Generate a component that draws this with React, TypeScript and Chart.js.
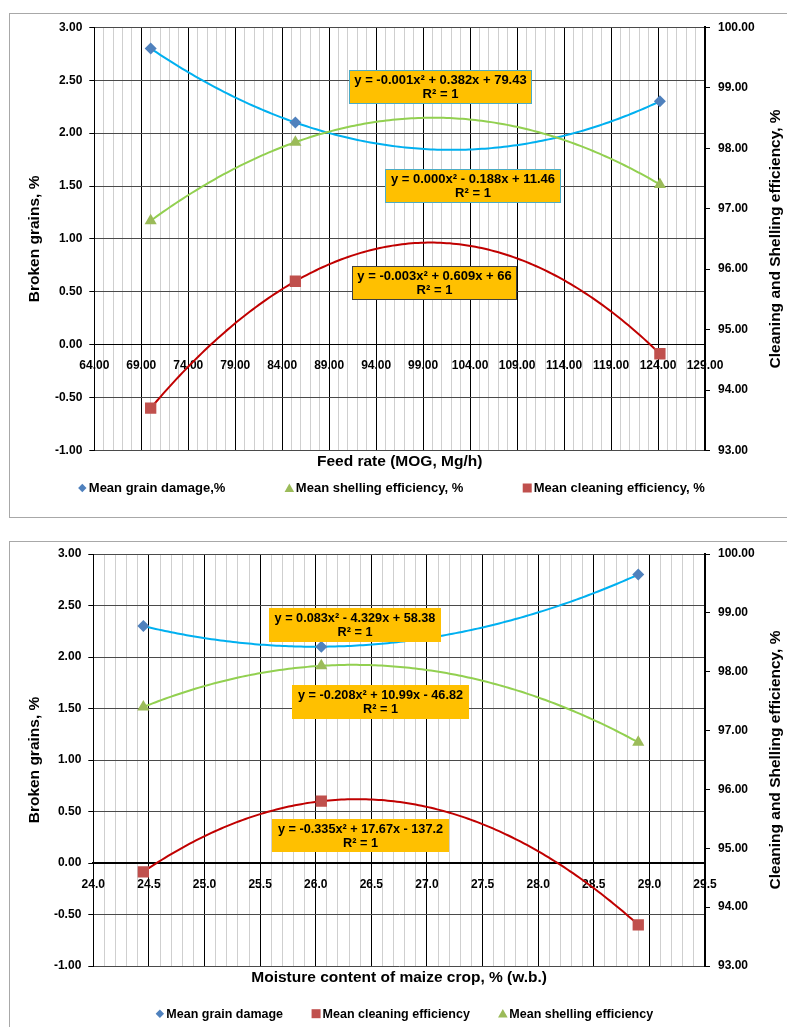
import React, { useEffect, useRef } from 'react';
import { Chart, registerables } from 'chart.js';

Chart.register(...registerables);

const FONT = "'Liberation Sans', Arial, Helvetica, sans-serif";

// ---------- Chart 1: feed rate ----------
const feedRate = [70.0, 85.4, 124.2];
const grainDamageFeed = [2.8, 2.1, 2.3];
const shellingFeed = [96.8, 98.1, 97.4];
const cleaningFeed = [93.7, 95.8, 94.6];
const feedLabels = ['Mean grain damage,%', 'Mean shelling efficiency, %', 'Mean cleaning efficiency, %'];
const feedEquations = [
  'y = -0.001x² + 0.382x + 79.43',
  'y = 0.000x² - 0.188x + 11.46',
  'y = -0.003x² + 0.609x + 66',
];

// ---------- Chart 2: moisture content ----------
const moisture = [24.45, 26.05, 28.9];
const grainDamageMoist = [2.3, 2.1, 2.8];
const cleaningMoist = [94.6, 95.8, 93.7];
const shellingMoist = [97.4, 98.1, 96.8];
const moistLabels = ['Mean grain damage', 'Mean cleaning efficiency', 'Mean shelling efficiency'];
const moistEquations = [
  'y = 0.083x² - 4.329x + 58.38',
  'y = -0.208x² + 10.99x - 46.82',
  'y = -0.335x² + 17.67x - 137.2',
];
const rSquared = 'R² = 1';

// axis ranges
const brokenRange = [-1, 3, 0.5];
const effRange = [93, 100, 1];
const feedRange = [64, 129, 1];
const moistRange = [24, 29.5, 0.1];

const BLUE = '#4F81BD';
const RED = '#C0504D';
const GREEN = '#9BBB59';

type Pt = { x: number; y: number };
const zip = (xs: number[], ys: number[]): Pt[] => xs.map((x, i) => ({ x, y: ys[i] }));

function quadFit(xs: number[], ys: number[]) {
  const n = xs.length;
  const mx = xs.reduce((a, b) => a + b, 0) / n;
  let s1 = 0, s2 = 0, s3 = 0, s4 = 0, t0 = 0, t1 = 0, t2 = 0;
  for (let i = 0; i < n; i++) {
    const u = xs[i] - mx;
    const y = ys[i];
    s1 += u; s2 += u * u; s3 += u * u * u; s4 += u * u * u * u;
    t0 += y; t1 += u * y; t2 += u * u * y;
  }
  const M = [
    [n, s1, s2, t0],
    [s1, s2, s3, t1],
    [s2, s3, s4, t2],
  ];
  for (let c = 0; c < 3; c++) {
    let p = c;
    for (let r = c + 1; r < 3; r++) if (Math.abs(M[r][c]) > Math.abs(M[p][c])) p = r;
    [M[c], M[p]] = [M[p], M[c]];
    for (let r = 0; r < 3; r++) {
      if (r === c) continue;
      const f = M[r][c] / M[c][c];
      for (let k = c; k < 4; k++) M[r][k] -= f * M[c][k];
    }
  }
  const a = M[0][3] / M[0][0];
  const b = M[1][3] / M[1][1];
  const cc = M[2][3] / M[2][2];
  return (x: number) => a + b * (x - mx) + cc * (x - mx) * (x - mx);
}

const trendPlugin = {
  id: 'quadTrend',
  beforeDatasetsDraw(chart: any) {
    const { ctx, chartArea } = chart;
    ctx.save();
    ctx.beginPath();
    ctx.rect(chartArea.left, chartArea.top, chartArea.right - chartArea.left, chartArea.bottom - chartArea.top);
    ctx.clip();
    chart.data.datasets.forEach((ds: any) => {
      if (!ds.trendColor) return;
      const pts = ds.data as Pt[];
      const xs = pts.map((p) => p.x);
      const f = quadFit(xs, pts.map((p) => p.y));
      const xScale = chart.scales[ds.xAxisID || 'x'];
      const yScale = chart.scales[ds.yAxisID || 'y'];
      const x0 = Math.min(...xs);
      const x1 = Math.max(...xs);
      const steps = 160;
      ctx.beginPath();
      for (let k = 0; k <= steps; k++) {
        const xv = x0 + ((x1 - x0) * k) / steps;
        const px = xScale.getPixelForValue(xv);
        const py = yScale.getPixelForValue(f(xv));
        if (k === 0) ctx.moveTo(px, py);
        else ctx.lineTo(px, py);
      }
      ctx.strokeStyle = ds.trendColor;
      ctx.lineWidth = 2;
      ctx.lineJoin = 'round';
      ctx.lineCap = 'round';
      ctx.stroke();
    });
    ctx.restore();
  },
};

function drawMarker(ctx: CanvasRenderingContext2D, style: string, x: number, y: number, color: string) {
  ctx.fillStyle = color;
  ctx.beginPath();
  if (style === 'rectRot') {
    const h = 4.2;
    ctx.moveTo(x, y - h);
    ctx.lineTo(x + h, y);
    ctx.lineTo(x, y + h);
    ctx.lineTo(x - h, y);
  } else if (style === 'triangle') {
    ctx.moveTo(x, y - 4.6);
    ctx.lineTo(x + 4.8, y + 3.9);
    ctx.lineTo(x - 4.8, y + 3.9);
  } else {
    ctx.rect(x - 4.5, y - 4.5, 9, 9);
  }
  ctx.closePath();
  ctx.fill();
}

type BoxSpec = { x: number; y: number; w: number; h: number; border?: string; text: string };
type DecorSpec = {
  boxes: BoxSpec[];
  boxFont: number;
  xTitle: string;
  xTitleOffset: number;
  yTitle: string;
  yTitleX: number;
  y2Title: string;
  y2TitleX: number;
  titleFont: number;
  legendFont: number;
  legendGap: number;
  legendCenterX: number;
  legendOffset: number;
};

function makeDecorPlugin(spec: DecorSpec) {
  return {
    id: 'decor',
    afterDraw(chart: any) {
      const { ctx, chartArea } = chart;
      const xS = chart.scales.x;
      const yS = chart.scales.y;
      ctx.save();
      // equation boxes
      spec.boxes.forEach((b) => {
        const cx = xS.getPixelForValue(b.x);
        const cy = yS.getPixelForValue(b.y);
        const l = Math.round(cx - b.w / 2);
        const t = Math.round(cy - b.h / 2);
        ctx.fillStyle = '#FFC000';
        ctx.fillRect(l, t, b.w, b.h);
        if (b.border) {
          ctx.strokeStyle = b.border;
          ctx.lineWidth = 1;
          ctx.strokeRect(l + 0.5, t + 0.5, b.w - 1, b.h - 1);
        }
        ctx.fillStyle = '#000';
        ctx.font = `bold ${spec.boxFont}px ${FONT}`;
        ctx.textAlign = 'center';
        ctx.textBaseline = 'middle';
        ctx.fillText(b.text, l + b.w / 2, t + b.h / 2 - 6.5);
        ctx.fillText(rSquared, l + b.w / 2, t + b.h / 2 + 7.5);
      });
      // titles
      const midY = (chartArea.top + chartArea.bottom) / 2;
      const midX = (chartArea.left + chartArea.right) / 2;
      ctx.fillStyle = '#000';
      ctx.font = `bold ${spec.titleFont}px ${FONT}`;
      ctx.textAlign = 'center';
      ctx.textBaseline = 'middle';
      ctx.fillText(spec.xTitle, midX, chartArea.bottom + spec.xTitleOffset);
      [
        [spec.yTitle, spec.yTitleX],
        [spec.y2Title, spec.y2TitleX],
      ].forEach(([txt, x]) => {
        ctx.save();
        ctx.translate(x as number, midY);
        ctx.rotate(-Math.PI / 2);
        ctx.fillText(txt as string, 0, 0);
        ctx.restore();
      });
      // legend
      ctx.font = `bold ${spec.legendFont}px ${FONT}`;
      ctx.textAlign = 'left';
      const items = chart.data.datasets.map((ds: any) => ({
        label: ds.label as string,
        style: ds.pointStyle as string,
        color: ds.backgroundColor as string,
      }));
      const widths = items.map((it: any) => ctx.measureText(it.label).width);
      const markerGap = 6.5;
      const total =
        widths.reduce((a: number, w: number) => a + w, 0) + items.length * markerGap + (items.length - 1) * spec.legendGap;
      let mx = spec.legendCenterX - total / 2;
      const ly = chartArea.bottom + spec.legendOffset;
      items.forEach((it: any, i: number) => {
        drawMarker(ctx, it.style, mx, ly, it.color);
        ctx.fillStyle = '#000';
        ctx.fillText(it.label, mx + markerGap, ly + 0.5);
        mx += markerGap + widths[i] + spec.legendGap;
      });
      ctx.restore();
    },
  };
}

type BuildArgs = {
  xRange: number[];
  majorEvery: number;
  decimals: number;
  xBorderWidth: number;
  showXTicks: boolean;
  datasets: any[];
  padTop: number;
  padBottom: number;
  leftWidth: number;
  rightWidth: number;
  decor: DecorSpec;
};

function buildConfig(a: BuildArgs): any {
  const [xMin, xMax, xStep] = a.xRange;
  const isMajor = (v: number) => Math.round((v - xMin) / xStep) % a.majorEvery === 0;
  const tickFont = { family: FONT, size: 12, weight: 'bold' as const };
  return {
    type: 'scatter',
    data: { datasets: a.datasets },
    plugins: [trendPlugin, makeDecorPlugin(a.decor)],
    options: {
      responsive: false,
      animation: false,
      events: [],
      layout: { padding: { top: a.padTop, bottom: a.padBottom, left: 0, right: 0 } },
      plugins: { legend: { display: false }, tooltip: { enabled: false } },
      scales: {
        x: {
          type: 'linear',
          position: { y: 0 },
          min: xMin,
          max: xMax,
          ticks: {
            stepSize: xStep,
            autoSkip: false,
            maxRotation: 0,
            minRotation: 0,
            padding: 9,
            color: '#000',
            font: tickFont,
            callback: (v: any) => (isMajor(Number(v)) ? Number(v).toFixed(a.decimals) : ''),
          },
          grid: {
            color: (c: any) => (c.tick && isMajor(c.tick.value) ? '#000' : '#CFCFCF'),
            lineWidth: 1,
            tickLength: 5,
            tickColor: (c: any) =>
              a.showXTicks && c.tick && isMajor(c.tick.value) ? '#000' : 'rgba(0,0,0,0)',
          },
          border: { display: true, color: '#000', width: a.xBorderWidth },
        },
        y: {
          type: 'linear',
          position: 'left',
          min: brokenRange[0],
          max: brokenRange[1],
          ticks: {
            stepSize: brokenRange[2],
            padding: 7,
            color: '#000',
            font: tickFont,
            callback: (v: any) => Number(v).toFixed(2),
          },
          grid: { color: '#4A4A4A', lineWidth: 1, tickLength: 5, tickColor: '#000' },
          border: { display: true, color: '#000', width: 1 },
          afterFit: (s: any) => {
            s.width = a.leftWidth;
          },
        },
        y2: {
          type: 'linear',
          position: 'right',
          min: effRange[0],
          max: effRange[1],
          ticks: {
            stepSize: effRange[2],
            padding: 8,
            color: '#000',
            font: tickFont,
            callback: (v: any) => Number(v).toFixed(2),
          },
          grid: { drawOnChartArea: false, tickLength: 5, tickColor: '#000', lineWidth: 1 },
          border: { display: true, color: '#000', width: 2 },
          afterFit: (s: any) => {
            s.width = a.rightWidth;
          },
        },
      },
    },
  };
}

function series(label: string, pts: Pt[], axis: string, style: string, radius: number, color: string, trend: string) {
  return {
    label,
    data: pts,
    yAxisID: axis,
    pointStyle: style,
    pointRadius: radius,
    pointBorderWidth: 0,
    backgroundColor: color,
    borderColor: color,
    showLine: false,
    trendColor: trend,
  };
}

const TITLE_Y = 'Broken grains, %';
const TITLE_Y2 = 'Cleaning and Shelling efficiency, %';

function feedConfig() {
  return buildConfig({
    xRange: feedRange,
    majorEvery: 5,
    decimals: 2,
    xBorderWidth: 1,
    showXTicks: false,
    padTop: 27.3,
    padBottom: 79.5,
    leftWidth: 94.3,
    rightWidth: 82,
    datasets: [
      series(feedLabels[0], zip(feedRate, grainDamageFeed), 'y', 'rectRot', 6, BLUE, '#00B0F0'),
      series(feedLabels[1], zip(feedRate, shellingFeed), 'y2', 'triangle', 7, GREEN, '#92D050'),
      series(feedLabels[2], zip(feedRate, cleaningFeed), 'y2', 'rect', 8, RED, '#C00000'),
    ],
    decor: {
      boxes: [
        { x: 100.88, y: 2.436, w: 183, h: 34, border: '#4BACC6', text: feedEquations[0] },
        { x: 104.29, y: 1.5, w: 176, h: 34, border: '#4BACC6', text: feedEquations[1] },
        { x: 100.21, y: 0.579, w: 165, h: 34, border: '#404040', text: feedEquations[2] },
      ],
      boxFont: 13,
      xTitle: 'Feed rate (MOG, Mg/h)',
      xTitleOffset: 11.5,
      yTitle: TITLE_Y,
      yTitleX: 35,
      y2Title: TITLE_Y2,
      y2TitleX: 776,
      titleFont: 15.5,
      legendFont: 13,
      legendGap: 64,
      legendCenterX: 393.5,
      legendOffset: 37.5,
    },
  });
}

function moistConfig() {
  return buildConfig({
    xRange: moistRange,
    majorEvery: 5,
    decimals: 1,
    xBorderWidth: 2,
    showXTicks: true,
    padTop: 24,
    padBottom: 61,
    leftWidth: 93.3,
    rightWidth: 82,
    datasets: [
      series(moistLabels[0], zip(moisture, grainDamageMoist), 'y', 'rectRot', 6, BLUE, '#00B0F0'),
      series(moistLabels[1], zip(moisture, cleaningMoist), 'y2', 'rect', 8, RED, '#C00000'),
      series(moistLabels[2], zip(moisture, shellingMoist), 'y2', 'triangle', 7, GREEN, '#92D050'),
    ],
    decor: {
      boxes: [
        { x: 26.35, y: 2.314, w: 172, h: 34, text: moistEquations[0] },
        { x: 26.58, y: 1.563, w: 177, h: 34, text: moistEquations[1] },
        { x: 26.4, y: 0.265, w: 177, h: 33, text: moistEquations[2] },
      ],
      boxFont: 12.7,
      xTitle: 'Moisture content of maize crop, % (w.b.)',
      xTitleOffset: 11.7,
      yTitle: TITLE_Y,
      yTitleX: 35,
      y2Title: TITLE_Y2,
      y2TitleX: 776,
      titleFont: 15.5,
      legendFont: 12.5,
      legendGap: 33,
      legendCenterX: 406.5,
      legendOffset: 47.7,
    },
  });
}

function ChartPanel({ build, top, height }: { build: () => any; top: number; height: number }) {
  const ref = useRef<HTMLCanvasElement>(null);
  useEffect(() => {
    const chart = new Chart(ref.current as HTMLCanvasElement, build());
    return () => chart.destroy();
  }, []);
  return (
    <canvas
      ref={ref}
      width={787}
      height={height}
      style={{ position: 'absolute', left: 0, top, width: 787, height }}
    />
  );
}

export default function App() {
  return (
    <div
      style={{
        position: 'absolute',
        left: 0,
        top: 0,
        width: 787,
        height: 1027,
        overflow: 'hidden',
        background: '#fff',
      }}
    >
      <div
        style={{
          position: 'absolute',
          left: 9,
          top: 13,
          width: 900,
          height: 505,
          border: '1px solid #A8A8A8',
          boxSizing: 'border-box',
        }}
      />
      <div
        style={{
          position: 'absolute',
          left: 9,
          top: 541,
          width: 900,
          height: 600,
          border: '1px solid #A8A8A8',
          boxSizing: 'border-box',
        }}
      />
      <ChartPanel build={feedConfig} top={0} height={530} />
      <ChartPanel build={moistConfig} top={530} height={497} />
    </div>
  );
}
